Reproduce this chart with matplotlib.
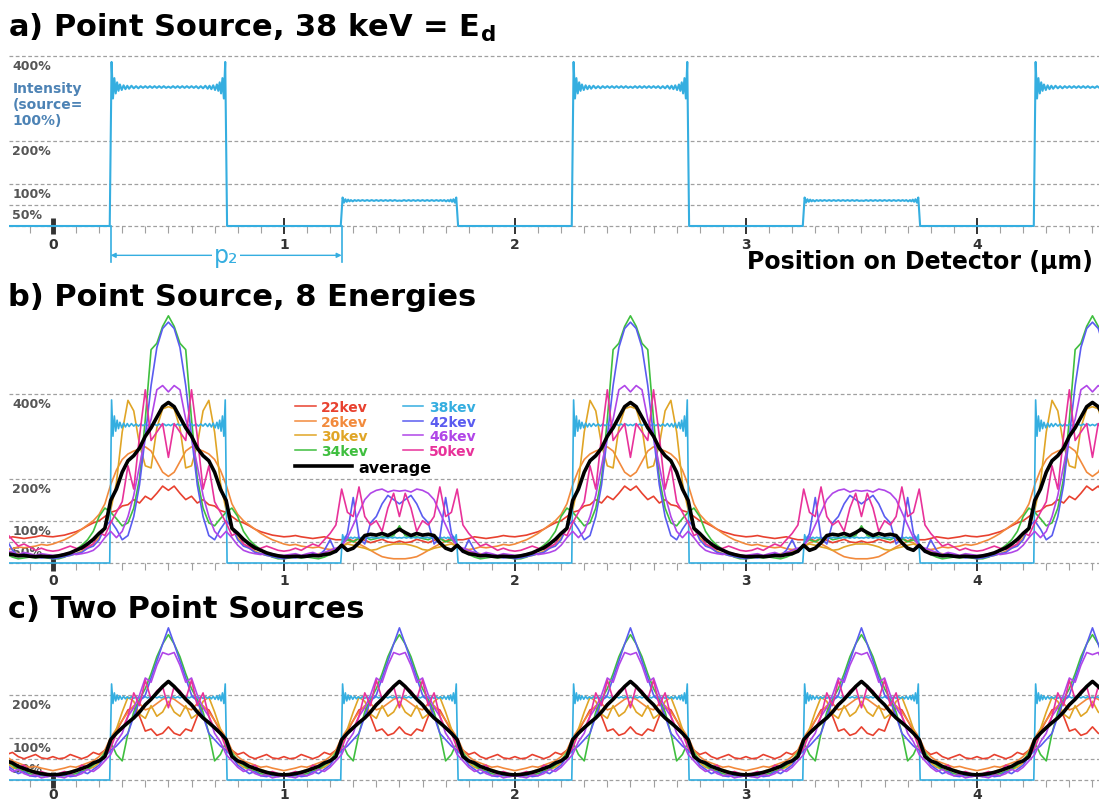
import numpy as np
import matplotlib
matplotlib.use("Agg")
import matplotlib.pyplot as plt
from matplotlib.ticker import FixedLocator, MultipleLocator
from matplotlib.lines import Line2D
from matplotlib.transforms import blended_transform_factory

# ------------------------------------------------------------------ data
energy_labels = ["22kev", "26kev", "30kev", "34kev", "38kev", "42kev", "46kev", "50kev"]
energy_colors = ["#e8412f", "#f28a3c", "#e0a526", "#3fbf3f", "#35aee0", "#5a5cf0", "#b046e8", "#e8329a"]
avg_label = "average"

x_ticks = [0, 1, 2, 3, 4]
x_tick_labels = ["0", "1", "2", "3", "4"]
x_range = [-0.19, 4.53]

grid_a = [0, 50, 100, 200, 400]
ylab_a = [400, 200, 100, 50]
grid_b = [0, 50, 100, 200, 400]
ylab_b = [400, 200, 100, 50]
grid_c = [0, 50, 100, 200]
ylab_c = [200, 100, 50]

# cyan (38 keV) band profile: offset from band edge (um) and intensity (%)
cyan_dx = [-0.004, 0.004, 0.010, 0.016, 0.022, 0.028, 0.034, 0.040, 0.048, 0.056,
           0.064, 0.072, 0.080, 0.090, 0.100, 0.110, 0.120, 0.130, 0.140, 0.150,
           0.160, 0.170, 0.180, 0.190, 0.200, 0.210, 0.220, 0.230, 0.240, 0.250]
cyan_hi = [0, 386, 300, 348, 312, 338, 318, 333, 320, 331, 322, 330, 323, 330, 324,
           329, 324, 329, 325, 329, 325, 329, 325, 329, 325, 329, 325, 329, 325, 328]
cyan_lo = [0, 67, 55, 63, 57, 62, 58, 61, 58, 61, 59, 61, 59, 61, 59,
           61, 59, 61, 59, 61, 59, 61, 59, 61, 59, 61, 59, 61, 59, 60]
cyan_two = [0, 226, 180, 205, 186, 200, 189, 198, 190, 197, 191, 196, 192, 196, 192,
            196, 192, 196, 193, 196, 193, 196, 193, 196, 193, 196, 193, 196, 193, 195]
band_width = 0.5
hi_band_starts = [-1.75, 0.25, 2.25, 4.25]
lo_band_starts = [-0.75, 1.25, 3.25]
two_band_starts = [-0.75, 0.25, 1.25, 2.25, 3.25, 4.25]

# panel b: half period, distance from bright-peak centre (0.5 um) 0 .. 1 um
b_dist = np.linspace(0.0, 1.0, 41)
b_center, b_period, b_repeats = 0.5, 2.0, 3
b_22 = [172, 182, 165, 150, 158, 142, 150, 138, 135, 124, 120, 110, 100, 95, 88, 80, 74, 70, 66, 64,
        62, 63, 65, 62, 60, 58, 60, 62, 58, 55, 55, 58, 52, 58, 54, 48, 52, 56, 50, 48, 52]
b_26 = [205, 215, 240, 265, 275, 270, 265, 258, 245, 220, 185, 140, 115, 100, 90, 80, 70, 62, 55, 50,
        45, 42, 44, 40, 38, 36, 38, 34, 32, 34, 38, 48, 52, 45, 38, 30, 22, 15, 12, 10, 10]
b_30 = [370, 365, 320, 225, 230, 280, 360, 385, 310, 190, 125, 80, 60, 45, 35, 28, 22, 18, 15, 14,
        12, 14, 16, 15, 18, 20, 22, 25, 28, 32, 40, 45, 42, 38, 35, 30, 32, 38, 42, 45, 45]
b_34 = [585, 560, 520, 505, 340, 200, 130, 95, 88, 105, 120, 130, 110, 75, 55, 42, 32, 22, 14, 10,
        10, 12, 14, 12, 14, 12, 10, 14, 20, 30, 45, 55, 50, 58, 62, 55, 58, 62, 60, 65, 88]
b_42 = [570, 555, 510, 420, 300, 185, 110, 65, 55, 80, 100, 85, 55, 40, 35, 25, 22, 18, 15, 12,
        10, 14, 12, 16, 18, 22, 18, 30, 55, 25, 40, 70, 155, 60, 45, 95, 110, 140, 160, 150, 140]
b_46 = [405, 420, 410, 340, 300, 230, 160, 110, 75, 60, 75, 60, 42, 30, 25, 22, 20, 24, 22, 18,
        18, 20, 22, 18, 22, 25, 20, 25, 30, 35, 40, 60, 90, 120, 150, 165, 172, 175, 168, 172, 170]
b_50 = [250, 330, 310, 290, 410, 300, 175, 230, 145, 120, 95, 65, 72, 45, 38, 32, 35, 40, 35, 30,
        28, 30, 35, 30, 38, 45, 40, 55, 70, 90, 175, 120, 110, 180, 110, 90, 100, 75, 130, 165, 110]
b_avg = [380, 370, 345, 320, 300, 272, 254, 242, 215, 175, 148, 82, 70, 56, 45, 36, 30, 24, 20, 17,
         15, 15, 16, 15, 16, 18, 17, 20, 22, 28, 42, 30, 35, 48, 65, 68, 66, 70, 65, 72, 80]

# panel c: half period, distance from peak centre 0 .. 0.5 um
c_dist = np.linspace(0.0, 0.5, 21)
c_center, c_period, c_first, c_last = 0.5, 1.0, -1, 4
c_22 = [125, 110, 105, 120, 115, 150, 170, 165, 140, 115, 90, 70, 60, 65, 55, 50, 55, 60, 52, 50, 55]
c_26 = [195, 190, 180, 170, 165, 180, 175, 160, 140, 120, 100, 70, 55, 45, 40, 35, 30, 32, 28, 25, 22]
c_30 = [185, 160, 150, 175, 145, 155, 185, 195, 160, 120, 80, 55, 40, 30, 25, 20, 25, 20, 12, 10, 15]
c_34 = [342, 320, 290, 250, 215, 190, 160, 110, 45, 60, 90, 65, 45, 35, 25, 20, 15, 12, 10, 10, 12]
c_42 = [358, 320, 280, 240, 200, 185, 150, 110, 95, 80, 70, 55, 35, 25, 15, 20, 10, 8, 12, 8, 10]
c_46 = [295, 300, 270, 230, 240, 200, 170, 150, 110, 90, 60, 45, 30, 20, 25, 15, 10, 12, 5, 8, 10]
c_50 = [170, 220, 210, 190, 235, 175, 205, 150, 120, 110, 75, 55, 45, 40, 30, 35, 20, 15, 20, 15, 12]
c_avg = [232, 220, 205, 190, 177, 160, 146, 135, 123, 110, 95, 55, 45, 40, 32, 27, 22, 18, 15, 13, 12]

p2_span = [0.25, 1.25]

# ------------------------------------------------------------------ helpers
def bands(starts, profile):
    dx = np.asarray(cyan_dx)
    pr = np.asarray(profile, dtype=float)
    xs, ys = [], []
    for s in sorted(starts):
        xs.append(np.concatenate([s + dx, s + band_width - dx[::-1]]))
        ys.append(np.concatenate([pr, pr[::-1]]))
    return np.concatenate(xs), np.concatenate(ys)


def merge_bands(*parts):
    xs = np.concatenate([p[0] for p in parts])
    ys = np.concatenate([p[1] for p in parts])
    order = np.argsort(xs, kind="stable")
    return xs[order], ys[order]


def periodic(dist, vals, center, period, ks):
    d = np.asarray(dist)
    v = np.asarray(vals, dtype=float)
    ux = np.concatenate([center - d[::-1], center + d[1:]])
    uy = np.concatenate([v[::-1], v[1:]])
    xs = np.concatenate([ux + k * period for k in ks])
    ys = np.concatenate([uy for _ in ks])
    return xs, ys


W, H = 1104, 804
fig = plt.figure(figsize=(W / 100, H / 100), dpi=100)
fig.patch.set_facecolor("white")


def make_axes(left, top, right, bottom):
    return fig.add_axes([left / W, 1 - bottom / H, (right - left) / W, (bottom - top) / H])


def style_axes(ax, ylim, grid_vals, ylabels, pad):
    ax.set_xlim(*x_range)
    ax.set_ylim(*ylim)
    ax.patch.set_alpha(0)
    for s in ["top", "right", "left"]:
        ax.spines[s].set_visible(False)
    ax.spines["bottom"].set_position(("data", 0))
    ax.spines["bottom"].set_visible(False)
    ax.set_yticks([])
    for g in grid_vals:
        ax.axhline(g, color="#a0a0a0", lw=0.9, ls=(0, (3, 2)), zorder=0)
    ax.xaxis.set_major_locator(FixedLocator(x_ticks))
    ax.xaxis.set_minor_locator(MultipleLocator(0.1))
    ax.set_xticklabels(x_tick_labels, fontweight="bold", color="#333333", fontsize=10)
    ax.tick_params(axis="x", which="major", direction="inout", length=12, width=1.4,
                   color="#333333", pad=pad)
    ax.tick_params(axis="x", which="minor", direction="out", length=5, width=0.8, color="#a0a0a0")
    t0 = ax.xaxis.get_major_ticks()[0]
    t0.tick1line.set_markeredgewidth(3.5)
    t0.tick1line.set_color("black")
    tr = blended_transform_factory(ax.transAxes, ax.transData)
    for v in ylabels:
        ax.annotate(f"{v}%", xy=(0.003, v), xycoords=tr, xytext=(0, -2.5),
                    textcoords="offset points", ha="left", va="top", fontsize=9,
                    fontweight="bold", color="#555555", zorder=1)


cyan = energy_colors[4]

# ------------------------------------------------------------------ panel a
ax_a = make_axes(9, 227 - 410 * 0.425, 1099.4, 227 + 15 * 0.425)
style_axes(ax_a, (-15, 410), grid_a, ylab_a, 2)
xa, ya = merge_bands(bands(hi_band_starts, cyan_hi), bands(lo_band_starts, cyan_lo))
ax_a.plot(xa, ya, color=cyan, lw=1.5, zorder=3)
ax_a.annotate("Intensity\n(source=\n100%)", xy=(0.003, 340),
              xycoords=blended_transform_factory(ax_a.transAxes, ax_a.transData),
              ha="left", va="top", fontsize=10, fontweight="bold", color="#4d83b5",
              linespacing=1.15)
# p2 marker
for xv in p2_span:
    ax_a.plot([xv, xv], [0, -85], color=cyan, lw=1.2, clip_on=False)
ax_a.annotate("", xy=(p2_span[0], -69), xytext=(p2_span[1], -69),
              arrowprops=dict(arrowstyle="<|-|>", color=cyan, lw=1.0, shrinkA=0, shrinkB=0,
                              mutation_scale=7), annotation_clip=False)
ax_a.text(np.mean(p2_span), -69, "p\u2082", ha="center", va="center", fontsize=17,
          color=cyan, clip_on=False,
          bbox=dict(facecolor="white", edgecolor="none", pad=1.0))

fig.text(8 / W, 1 - 28 / H, r"a) Point Source, 38 keV = E$_{\mathbf{d}}$", ha="left",
         va="center", fontsize=22, fontweight="bold", color="black")
fig.text(1093 / W, 1 - 262 / H, "Position on Detector (\u00b5m)", ha="right", va="center",
         fontsize=17, fontweight="bold", color="black")

# ------------------------------------------------------------------ panel b
ax_b = make_axes(9, 564 - 600 * 0.4225, 1099.4, 564 + 15 * 0.4225)
style_axes(ax_b, (-15, 600), grid_b, ylab_b, 1)
b_series = [b_22, b_26, b_30, b_34, None, b_42, b_46, b_50]
handles = []
for lab, col, vals in zip(energy_labels, energy_colors, b_series):
    if vals is None:
        x, y = merge_bands(bands(hi_band_starts, cyan_hi), bands(lo_band_starts, cyan_lo))
    else:
        x, y = periodic(b_dist, vals, b_center, b_period, range(-1, b_repeats))
    ax_b.plot(x, y, color=col, lw=1.2, zorder=2)
    handles.append(Line2D([], [], color=col, lw=1.1, label=lab))
xb, yb = periodic(b_dist, b_avg, b_center, b_period, range(-1, b_repeats))
ax_b.plot(xb, yb, color="black", lw=2.6, zorder=4)

leg1 = ax_b.legend(handles=handles, ncol=2, loc="upper left", bbox_to_anchor=(0.262, 0.652),
                   frameon=False, prop=dict(size=10, weight="bold"), handlelength=1.5,
                   handletextpad=0.4, columnspacing=2.5, labelspacing=0.05, borderpad=0,
                   borderaxespad=0)
for t, c in zip(leg1.get_texts(), energy_colors):
    t.set_color(c)
ax_b.add_artist(leg1)
leg2 = ax_b.legend(handles=[Line2D([], [], color="black", lw=2.6, label=avg_label)],
                   loc="upper left", bbox_to_anchor=(0.262, 0.422), frameon=False,
                   prop=dict(size=11.5, weight="bold"), handlelength=3.6, handletextpad=0.4,
                   borderpad=0, borderaxespad=0)

fig.text(8 / W, 1 - 298 / H, "b) Point Source, 8 Energies", ha="left", va="center",
         fontsize=22, fontweight="bold", color="black")

# ------------------------------------------------------------------ panel c
ax_c = make_axes(9, 781 - 370 * 0.425, 1099.4, 781 + 15 * 0.425)
style_axes(ax_c, (-15, 370), grid_c, ylab_c, -1)
c_series = [c_22, c_26, c_30, c_34, None, c_42, c_46, c_50]
for col, vals in zip(energy_colors, c_series):
    if vals is None:
        x, y = bands(two_band_starts, cyan_two)
    else:
        x, y = periodic(c_dist, vals, c_center, c_period, range(c_first, c_last + 1))
    ax_c.plot(x, y, color=col, lw=1.2, zorder=2)
xc, yc = periodic(c_dist, c_avg, c_center, c_period, range(c_first, c_last + 1))
ax_c.plot(xc, yc, color="black", lw=2.6, zorder=4)

fig.text(8 / W, 1 - 610 / H, "c) Two Point Sources", ha="left", va="center",
         fontsize=22, fontweight="bold", color="black")

fig.savefig("out.png", dpi=100, facecolor="white")
